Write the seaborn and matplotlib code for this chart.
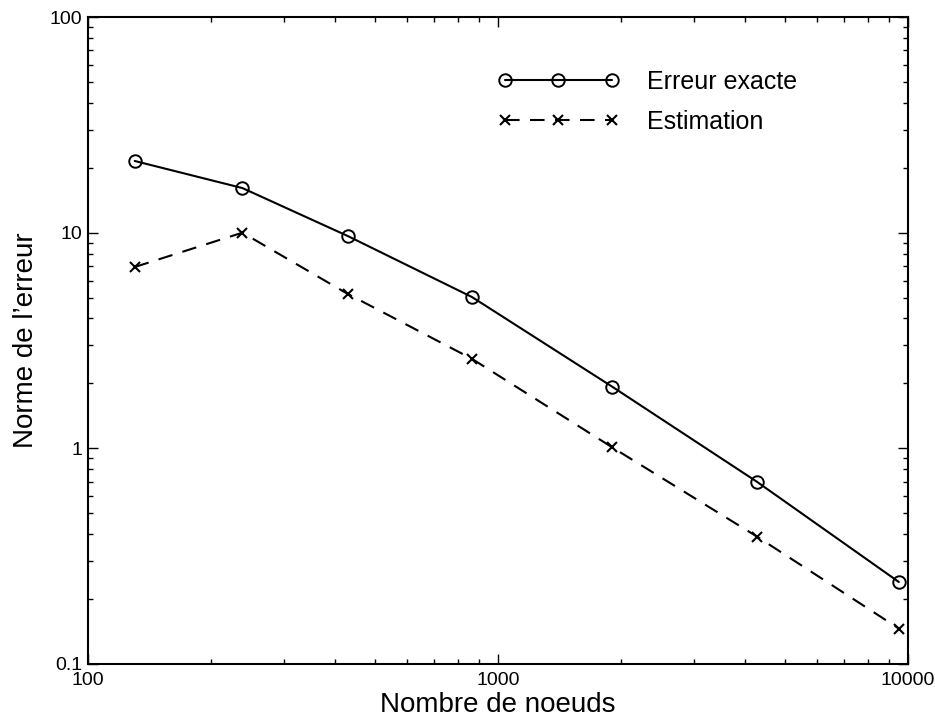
import matplotlib
matplotlib.use("Agg")
import matplotlib.pyplot as plt
import matplotlib.ticker as mticker
import numpy as np
import pandas as pd
import seaborn as sns

# Data
nodes = [130, 238, 430, 864, 1900, 4280, 9500]
erreur_exacte = [21.5, 16.1, 9.65, 5.03, 1.93, 0.70, 0.24]
estimation = [6.93, 10.0, 5.2, 2.6, 1.01, 0.39, 0.146]
series_labels = ["Erreur exacte", "Estimation"]
x_ticks = [100, 1000, 10000]
y_ticks = [0.1, 1, 10, 100]

sns.set_theme(style="ticks")
plt.rcParams["font.family"] = ["Liberation Sans", "DejaVu Sans"]
plt.rcParams["text.color"] = "black"

df = pd.DataFrame({"nodes": nodes, "exacte": erreur_exacte, "estim": estimation})

fig = plt.figure(figsize=(9.35, 7.21), dpi=100)
ax = fig.add_axes([88 / 935, 1 - 664 / 721, 820 / 935, 647 / 721])

sns.lineplot(data=df, x="nodes", y="exacte", ax=ax, color="black", lw=1.5,
             marker="o", markersize=9, markerfacecolor="none",
             markeredgecolor="black", markeredgewidth=1.4, legend=False)
sns.lineplot(data=df, x="nodes", y="estim", ax=ax, color="black", lw=1.5,
             marker="x", markersize=7.5, markeredgecolor="black",
             markeredgewidth=1.5, dashes=False, legend=False)
ax.lines[1].set_dashes((7, 5))

ax.set_xscale("log")
ax.set_yscale("log")
ax.set_xlim(100, 10000)
ax.set_ylim(0.1, 100)

ax.xaxis.set_major_locator(mticker.FixedLocator(x_ticks))
ax.yaxis.set_major_locator(mticker.FixedLocator(y_ticks))
ax.xaxis.set_major_formatter(mticker.FixedFormatter([f"{v:g}" for v in x_ticks]))
ax.yaxis.set_major_formatter(mticker.FixedFormatter([f"{v:g}" for v in y_ticks]))
ax.xaxis.set_minor_locator(mticker.LogLocator(base=10, subs=np.arange(2, 10), numticks=20))
ax.yaxis.set_minor_locator(mticker.LogLocator(base=10, subs=np.arange(2, 10), numticks=20))
ax.xaxis.set_minor_formatter(mticker.NullFormatter())
ax.yaxis.set_minor_formatter(mticker.NullFormatter())

ax.tick_params(which="both", direction="in", top=True, right=True, color="black", width=1.0)
ax.tick_params(which="major", length=7, labelsize=14, labelcolor="black")
ax.tick_params(which="minor", length=3.5)
ax.tick_params(axis="x", which="major", pad=6)
ax.tick_params(axis="y", which="major", pad=4)

for s in ax.spines.values():
    s.set_visible(True)
    s.set_linewidth(1.5)
    s.set_color("black")

ax.set_xlabel("Nombre de noeuds", fontsize=20, color="black", labelpad=2)
ax.set_ylabel("Norme de l\u2019erreur", fontsize=20, color="black", labelpad=8)

leg = ax.legend(ax.lines[:2], series_labels, loc="center left",
                bbox_to_anchor=(0.499, 0.869), frameon=False, numpoints=3,
                fontsize=18, handlelength=4.9, handletextpad=1.1,
                labelspacing=0.62, borderpad=0, borderaxespad=0,
                labelcolor="black")

fig.savefig("out.png", dpi=100)
